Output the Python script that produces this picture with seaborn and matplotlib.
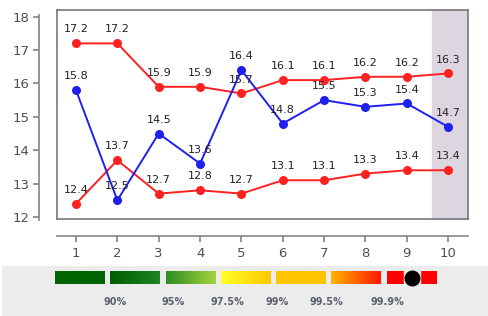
import numpy as np
import matplotlib.pyplot as plt
import matplotlib.colors as mcolors
import seaborn as sns

sns.set_theme(style="white")
plt.rcParams['font.family'] = ['DejaVu Sans']

# data
periods = [1, 2, 3, 4, 5, 6, 7, 8, 9, 10]
upper_limit = [17.2, 17.2, 15.9, 15.9, 15.7, 16.1, 16.1, 16.2, 16.2, 16.3]
measured = [15.8, 12.5, 14.5, 13.6, 16.4, 14.8, 15.5, 15.3, 15.4, 14.7]
lower_limit = [12.4, 13.7, 12.7, 12.8, 12.7, 13.1, 13.1, 13.3, 13.4, 13.4]
y_ticks = [12, 13, 14, 15, 16, 17, 18]

# percentile legend strip
legend_labels = ['90%', '95%', '97.5%', '99%', '99.5%', '99.9%']
legend_colors = [('#006400', '#006400'), ('#005f00', '#1c8420'),
                 ('#2f8d22', '#a3d23e'), ('#ffff2a', '#ffc800'),
                 ('#ffc400', '#ffc400'), ('#ffb400', '#ff1800'),
                 ('#ff0000', '#ff0000')]

W, H = 489, 316
fig = plt.figure(figsize=(W / 100, H / 100), dpi=100)


def px_axes(x0, y0, x1, y1, **kw):
    return fig.add_axes([x0 / W, 1 - y1 / H, (x1 - x0) / W, (y1 - y0) / H], **kw)


xlim = (0.54, 10.48)
ylim = (11.94, 18.2)
grey = '#505050'

# main box
ax = px_axes(57, 10, 468, 219)
ax.set_xlim(*xlim)
ax.set_ylim(*ylim)
ax.axvspan(9.61, xlim[1], color='#ddd6e0', zorder=0)
for s in ax.spines.values():
    s.set_color('#777777')
    s.set_linewidth(1.2)
ax.set_xticks([])
ax.set_yticks([])

for vals, col in [(upper_limit, '#ff2020'), (lower_limit, '#ff2020'), (measured, '#2020ee')]:
    sns.lineplot(x=periods, y=vals, ax=ax, color=col, marker='o', markersize=6.5,
                 markeredgewidth=0, linewidth=1.4)
    for xi, yi in zip(periods, vals):
        ax.annotate(f'{yi:.1f}', (xi, yi), xytext=(0, 10), textcoords='offset points',
                    ha='center', va='center', fontsize=8, color='#222222')

# separate y axis
axy = px_axes(39, 10, 40, 219)
axy.set_ylim(*ylim)
axy.set_xticks([])
axy.set_yticks(y_ticks)
for k in ['top', 'right', 'bottom']:
    axy.spines[k].set_visible(False)
axy.spines['left'].set_color('#888888')
axy.spines['left'].set_bounds(11.9, 18.05)
axy.tick_params(axis='y', left=True, length=4, color='#888888', labelsize=9.5,
                labelcolor=grey, pad=3)
axy.patch.set_alpha(0)

# separate x axis
axx = px_axes(57, 235, 468, 236)
axx.set_xlim(*xlim)
axx.set_yticks([])
axx.set_xticks(periods)
for k in ['top', 'right', 'left']:
    axx.spines[k].set_visible(False)
axx.spines['bottom'].set_color('#888888')
axx.spines['bottom'].set_linewidth(1.2)
axx.tick_params(axis='x', bottom=True, length=4, color='#888888', labelsize=9.5,
                labelcolor=grey, pad=4)
axx.patch.set_alpha(0)

# legend strip at the bottom
axl = px_axes(2, 266, 489, 316)
axl.set_facecolor('#ececec')
axl.set_xticks([])
axl.set_yticks([])
for s in axl.spines.values():
    s.set_visible(False)

x_start, box_w, gap = 55, 50, 5.3
for i, (c0, c1) in enumerate(legend_colors):
    x0 = x_start + i * (box_w + gap)
    cmap = mcolors.LinearSegmentedColormap.from_list(f'g{i}', [c0, c1])
    axl.imshow(np.linspace(0, 1, 64)[None, :], cmap=cmap, aspect='auto',
               extent=(x0, x0 + box_w, 284, 271), zorder=1)
axl.set_xlim(2, 489)
axl.set_ylim(316, 266)
x_last = x_start + 6 * (box_w + gap)
axl.add_patch(plt.Rectangle((x_last + 17, 270), 16, 15, color='#ececec', zorder=2))
axl.scatter([x_last + 25], [277.5], s=110, color='black', zorder=3)

label_x = [115, 173, 227, 277, 326, 387]
for x, lab in zip(label_x, legend_labels):
    axl.text(x, 302, lab, ha='center', va='center', fontsize=7, color='#5a6070',
             fontweight='semibold')

fig.savefig('out.png', dpi=100)
